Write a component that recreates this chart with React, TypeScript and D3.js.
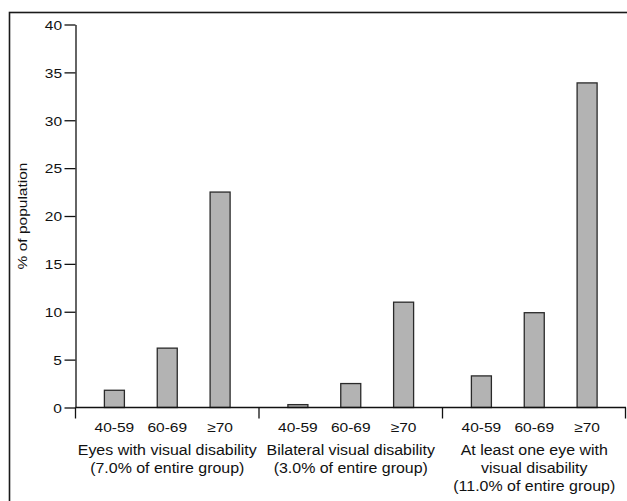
import React, { useEffect, useRef } from "react";
import * as d3 from "d3";

// age bands inside each group
const ageBands = ["40-59", "60-69", "≥70"];
// group titles (one array per line of the label)
const groupKeys = ["eyes", "bilateral", "atLeastOne"];
const groupLabels = [
  ["Eyes with visual disability", "(7.0% of entire group)"],
  ["Bilateral visual disability", "(3.0% of entire group)"],
  ["At least one eye with", "visual disability", "(11.0% of entire group)"],
];
// % of population
const eyesValues = [1.8, 6.2, 22.5];
const bilateralValues = [0.3, 2.5, 11.0];
const atLeastOneValues = [3.3, 9.9, 33.9];
const yTicks = [0, 5, 10, 15, 20, 25, 30, 35, 40];

const FONT = "Arial, 'Liberation Sans', sans-serif";
const SX = 1.15; // source picture text is stretched horizontally
const SX_LABEL = 1.1;

function App() {
  const svgRef = useRef<SVGSVGElement>(null);

  useEffect(() => {
    const W = 627;
    const H = 501;
    const left = 75.5;
    const right = 626;
    const top = 24.5;
    const bottom = 407.5;

    const svg = d3.select(svgRef.current);
    svg.selectAll("*").remove();
    svg.attr("width", W).attr("height", H);

    // outer frame
    svg.append("rect")
      .attr("x", 9.5)
      .attr("y", 12.5)
      .attr("width", 640)
      .attr("height", 520)
      .attr("fill", "none")
      .attr("stroke", "#1a1a1a")
      .attr("stroke-width", 1.6);

    const series = [eyesValues, bilateralValues, atLeastOneValues];

    const x0 = d3.scaleBand<string>().domain(groupKeys).range([left, right]).padding(0);
    const x1 = d3.scalePoint<string>().domain(ageBands).range([0, x0.bandwidth()]).padding(0.736);
    const y = d3.scaleLinear().domain([0, 40]).range([bottom, top]);
    const barW = 20;

    // y axis
    const yAxis = d3.axisLeft(y).tickValues(yTicks).tickSize(11).tickSizeOuter(0).tickPadding(0);
    const gy = svg.append("g").attr("transform", `translate(${left},0)`).call(yAxis);
    gy.select(".domain").attr("stroke", "#111").attr("stroke-width", 1.3);
    gy.selectAll(".tick line").attr("stroke", "#111").attr("stroke-width", 1.3);
    gy.selectAll(".tick text")
      .attr("x", -13.5 / SX)
      .attr("dy", "0.36em")
      .attr("transform", `scale(${SX},1)`)
      .attr("fill", "#111")
      .style("font-family", FONT)
      .style("font-size", "13.5px");

    // bars
    groupKeys.forEach((g, gi) => {
      const gx = x0(g) as number;
      svg.append("g")
        .selectAll("rect")
        .data(series[gi])
        .enter().append("rect")
        .attr("x", (d, i) => gx + (x1(ageBands[i]) as number) - barW / 2)
        .attr("y", d => y(d))
        .attr("width", barW)
        .attr("height", d => y(0) - y(d))
        .attr("fill", "#b3b3b3")
        .attr("stroke", "#2a2a2a")
        .attr("stroke-width", 1.3);
    });

    // x axis line and group separators
    const gx = svg.append("g");
    gx.append("line")
      .attr("x1", left).attr("x2", right)
      .attr("y1", bottom).attr("y2", bottom)
      .attr("stroke", "#111").attr("stroke-width", 1.3);
    const seps = groupKeys.map(g => x0(g) as number).concat([right - 0.5]);
    gx.selectAll("line.sep")
      .data(seps)
      .enter().append("line")
      .attr("class", "sep")
      .attr("x1", d => d).attr("x2", d => d)
      .attr("y1", bottom).attr("y2", bottom + 11)
      .attr("stroke", "#111").attr("stroke-width", 1.3);

    // age band labels
    groupKeys.forEach((g, gi) => {
      const base = x0(g) as number;
      ageBands.forEach(a => {
        svg.append("text")
          .attr("transform", `translate(${base + (x1(a) as number)},${bottom + 24}) scale(${SX},1)`)
          .attr("text-anchor", "middle")
          .attr("fill", "#111")
          .style("font-family", FONT)
          .style("font-size", "13.5px")
          .text(a);
      });
      groupLabels[gi].forEach((line, li) => {
        svg.append("text")
          .attr("transform", `translate(${base + x0.bandwidth() / 2},${bottom + 47.5 + li * 18}) scale(${SX_LABEL},1)`)
          .attr("text-anchor", "middle")
          .attr("fill", "#111")
          .style("font-family", FONT)
          .style("font-size", "14.5px")
          .text(line);
      });
    });

    // y axis title
    svg.append("text")
      .attr("transform", `translate(27,${(top + bottom) / 2}) rotate(-90) scale(${SX},1)`)
      .attr("text-anchor", "middle")
      .attr("fill", "#111")
      .style("font-family", FONT)
      .style("font-size", "13.5px")
      .text("% of population");
  }, []);

  return (
    <svg
      ref={svgRef}
      style={{ position: "absolute", left: 0, top: 0, display: "block" }}
    ></svg>
  );
}

export default App;
